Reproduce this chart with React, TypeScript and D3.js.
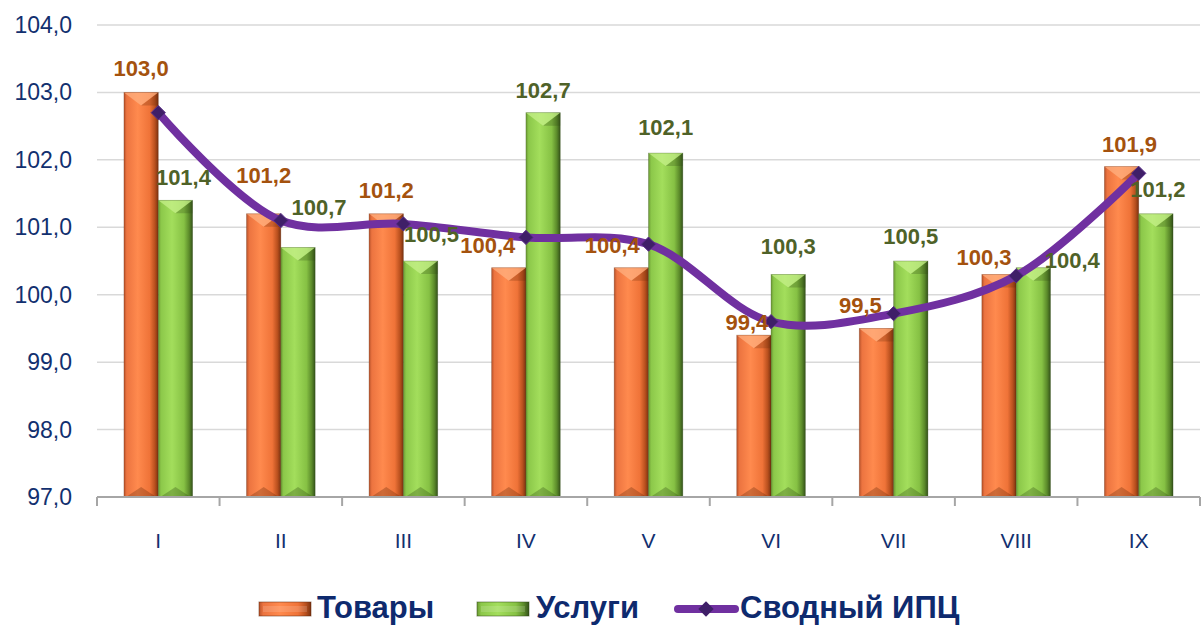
import { useEffect, useRef } from "react";
import * as d3 from "d3";

const MONTHS = ["I", "II", "III", "IV", "V", "VI", "VII", "VIII", "IX"];
const GOODS = [103.0, 101.2, 101.2, 100.4, 100.4, 99.4, 99.5, 100.3, 101.9];
const SERVICES = [101.4, 100.7, 100.5, 102.7, 102.1, 100.3, 100.5, 100.4, 101.2];
const CPI = [102.7, 101.1, 101.05, 100.85, 100.75, 99.6, 99.72, 100.28, 101.8];
const Y_TICKS = [97, 98, 99, 100, 101, 102, 103, 104];

// manual label nudges (dx, dy), like the hand-moved labels in the original
const GOODS_NUDGE: [number, number][] = [[0, -1], [0, -16], [0, -1], [-21, 0], [-19, 0], [-7, 10], [-16, 0], [-15, 6], [8, 0]];
const SERVICES_NUDGE: [number, number][] = [[8, 0], [21, -18], [11, -4], [0, 0], [0, -3], [0, -5], [0, -2], [39, 15], [2, -2]];

const NAVY = "#12306f";

export default function App() {
  const svgRef = useRef<SVGSVGElement>(null);

  useEffect(() => {
    if (!svgRef.current) return;
    const W = 1203, H = 625;
    const svg = d3.select(svgRef.current);
    svg.selectAll("*").remove();
    svg.attr("width", W).attr("height", H);

    const x = d3.scaleBand().domain(MONTHS).range([97, 1200]);
    const y = d3.scaleLinear().domain([97, 104]).range([497, 25]);
    const bw = x.bandwidth() * 0.28;

    const defs = svg.append("defs");
    const grad = (id: string, stops: [number, string][]) => {
      const g = defs.append("linearGradient").attr("id", id).attr("x1", 0).attr("x2", 1).attr("y1", 0).attr("y2", 0);
      stops.forEach(([o, c]) => g.append("stop").attr("offset", o).attr("stop-color", c));
    };
    grad("gOrange", [[0, "#b8522a"], [0.08, "#ec7440"], [0.4, "#ff8a4e"], [0.75, "#ef7338"], [0.9, "#b9501e"], [1, "#7a3210"]]);
    grad("gGreen", [[0, "#6c9a34"], [0.08, "#8cc84a"], [0.4, "#a3de5c"], [0.75, "#86c144"], [0.9, "#5b8a2a"], [1, "#34521a"]]);

    // grid
    svg.append("g").selectAll("line").data(Y_TICKS.slice(1)).join("line")
      .attr("x1", 97).attr("x2", 1200)
      .attr("y1", (d) => y(d)).attr("y2", (d) => y(d))
      .attr("stroke", "#d9d9d9").attr("stroke-width", 1.5);

    // y labels
    svg.append("g").selectAll("text").data(Y_TICKS).join("text")
      .attr("x", 72).attr("y", (d) => y(d) + 8)
      .attr("text-anchor", "end").attr("font-size", 23)
      .attr("font-family", "Liberation Sans, Arial, sans-serif")
      .attr("fill", NAVY)
      .text((d) => d.toFixed(1).replace(".", ","));

    // bars
    const drawBars = (vals: number[], fill: string, light: string, dark: string, off: number) => {
      const g = svg.append("g");
      vals.forEach((v, i) => {
        const cx = (x(MONTHS[i]) as number) + x.bandwidth() / 2;
        const bx = cx + off;
        const top = y(v), bot = y(97);
        g.append("rect").attr("x", bx).attr("y", top).attr("width", bw).attr("height", bot - top).attr("fill", `url(#${fill})`);
        g.append("polygon")
          .attr("points", `${bx},${top} ${bx + bw},${top} ${bx + bw / 2},${top + 13}`)
          .attr("fill", light).attr("opacity", 0.75);
        g.append("polygon")
          .attr("points", `${bx + bw},${top} ${bx + bw},${top + 13} ${bx + bw / 2},${top + 13}`)
          .attr("fill", dark).attr("opacity", 0.25);
        g.append("polygon")
          .attr("points", `${bx + 2},${bot} ${bx + bw - 2},${bot} ${bx + bw / 2},${bot - 10}`)
          .attr("fill", dark).attr("opacity", 0.3);
        g.append("rect").attr("x", bx).attr("y", top).attr("width", bw).attr("height", bot - top)
          .attr("fill", "none").attr("stroke", dark).attr("stroke-opacity", 0.35).attr("stroke-width", 0.8);
      });
    };
    drawBars(GOODS, "gOrange", "#ffb080", "#5e2608", -bw);
    drawBars(SERVICES, "gGreen", "#c6f08a", "#2c4512", 0);

    // axis
    svg.append("line").attr("x1", 97).attr("x2", 1200).attr("y1", 497).attr("y2", 497)
      .attr("stroke", "#a6a6a6").attr("stroke-width", 2);
    svg.append("g").selectAll("line").data([...MONTHS, "end"]).join("line")
      .attr("x1", (d, i) => 97 + i * x.bandwidth()).attr("x2", (d, i) => 97 + i * x.bandwidth())
      .attr("y1", 497).attr("y2", 506).attr("stroke", "#a6a6a6").attr("stroke-width", 2);
    svg.append("g").selectAll("text").data(MONTHS).join("text")
      .attr("x", (d) => (x(d) as number) + x.bandwidth() / 2).attr("y", 548)
      .attr("text-anchor", "middle").attr("font-size", 21)
      .attr("font-family", "Liberation Sans, Arial, sans-serif").attr("fill", NAVY)
      .text((d) => d);

    // CPI line
    const cx = (i: number) => (x(MONTHS[i]) as number) + x.bandwidth() / 2;
    const line = d3.line<number>().x((d, i) => cx(i)).y((d) => y(d)).curve(d3.curveCatmullRom.alpha(0.5));
    svg.append("path").datum(CPI).attr("d", line).attr("fill", "none")
      .attr("stroke", "#7030a0").attr("stroke-width", 8).attr("stroke-linecap", "butt");
    svg.append("g").selectAll("path").data(CPI).join("path")
      .attr("d", d3.symbol(d3.symbolDiamond2, 130)())
      .attr("transform", (d, i) => `translate(${cx(i)},${y(d)})`)
      .attr("fill", "#3f1f68").attr("stroke", "#5a2f8a").attr("stroke-width", 1);

    // value labels
    const labels = (vals: number[], nudge: [number, number][], off: number, color: string) => {
      svg.append("g").selectAll("text").data(vals).join("text")
        .attr("x", (d, i) => cx(i) + off + nudge[i][0])
        .attr("y", (d, i) => y(d) - 15 + nudge[i][1])
        .attr("text-anchor", "middle").attr("font-size", 22).attr("font-weight", 700)
        .attr("font-family", "Liberation Sans, Arial, sans-serif").attr("fill", color)
        .text((d) => d.toFixed(1).replace(".", ","));
    };
    labels(GOODS, GOODS_NUDGE, -bw / 2, "#a4520e");
    labels(SERVICES, SERVICES_NUDGE, bw / 2, "#4f6228");

    // legend
    const lg = svg.append("g").attr("font-family", "Liberation Sans, Arial, sans-serif")
      .attr("font-weight", 700).attr("font-size", 31).attr("fill", "#0e2a6e");
    const swatch = (sx: number, fill: string, dark: string) => {
      lg.append("rect").attr("x", sx).attr("y", 602).attr("width", 52).attr("height", 14).attr("fill", `url(#${fill})`);
      lg.append("rect").attr("x", sx + 4).attr("y", 606).attr("width", 44).attr("height", 6).attr("fill", "#ffffff").attr("opacity", 0.15);
      lg.append("rect").attr("x", sx).attr("y", 602).attr("width", 52).attr("height", 14).attr("fill", "none").attr("stroke", dark).attr("stroke-opacity", 0.5);
    };
    swatch(259, "gOrange", "#5e2608");
    lg.append("text").attr("x", 317).attr("y", 618).text("Товары");
    swatch(477, "gGreen", "#2c4512");
    lg.append("text").attr("x", 536).attr("y", 618).text("Услуги");
    lg.append("line").attr("x1", 678).attr("x2", 735).attr("y1", 609).attr("y2", 609)
      .attr("stroke", "#7030a0").attr("stroke-width", 8).attr("stroke-linecap", "round");
    lg.append("path").attr("d", d3.symbol(d3.symbolDiamond2, 150)()).attr("transform", "translate(706,609)")
      .attr("fill", "#3f1f68");
    lg.append("text").attr("x", 740).attr("y", 618).text("Сводный ИПЦ");
  }, []);

  return <svg ref={svgRef} style={{ position: "absolute", left: 0, top: 0, display: "block", background: "#fff" }} />;
}
